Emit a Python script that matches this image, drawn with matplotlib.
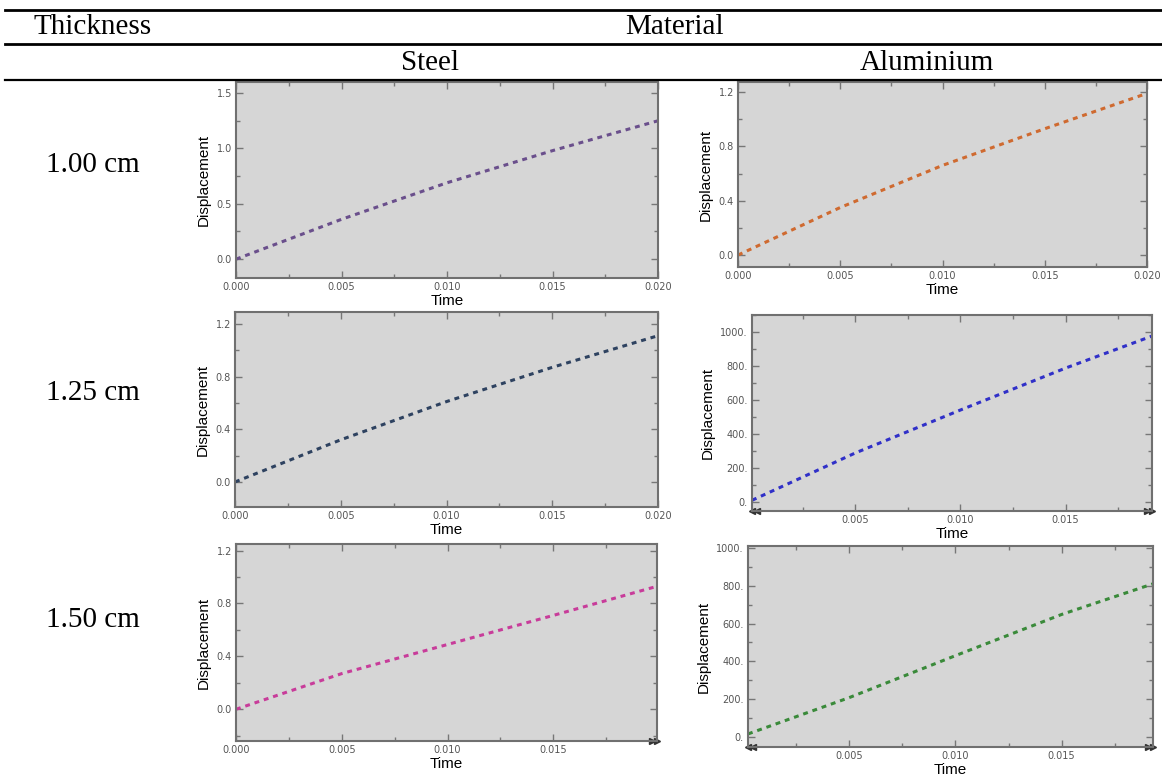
import numpy as np
import matplotlib
matplotlib.use("Agg")
import matplotlib.pyplot as plt
from matplotlib.lines import Line2D
from matplotlib.ticker import FuncFormatter, MultipleLocator

# table text
col_header = "Thickness"
group_header = "Material"
materials = ["Steel", "Aluminium"]
thicknesses = ["1.00 cm", "1.25 cm", "1.50 cm"]

# steel curves (time, displacement)
steel_t1 = [0.0, 0.005, 0.010, 0.015, 0.020]
steel_d1 = [0.0, 0.36, 0.69, 0.98, 1.25]
steel_t2 = [0.0, 0.005, 0.010, 0.015, 0.020]
steel_d2 = [0.0, 0.32, 0.61, 0.87, 1.11]
steel_t3 = [0.0, 0.005, 0.010, 0.015, 0.0199]
steel_d3 = [0.0, 0.27, 0.49, 0.71, 0.93]

# aluminium curves
alu_t1 = [0.0, 0.005, 0.010, 0.015, 0.020]
alu_d1 = [0.0, 0.35, 0.66, 0.93, 1.19]
alu_t2 = [0.0001, 0.005, 0.010, 0.015, 0.0191]
alu_d2 = [10, 288, 541, 788, 976]
alu_t3 = [0.00024, 0.005, 0.010, 0.015, 0.0193]
alu_d3 = [16, 208, 430, 648, 810]

W, H = 1162, 776
fig = plt.figure(figsize=(W / 100, H / 100), dpi=100)

serif = "Liberation Serif"
sans = "Liberation Sans"


def fx(px):
    return px / W


def fy(py):
    return 1 - py / H


def rule(y, x0=5, x1=1162, lw=2.0):
    fig.add_artist(Line2D([fx(x0), fx(x1)], [fy(y), fy(y)], color="black", lw=lw))


rule(10)
rule(44)
rule(80, lw=1.6)

fig.text(fx(33), fy(27), col_header, family=serif, fontsize=21, ha="left", va="center")
fig.text(fx(675), fy(27), group_header, family=serif, fontsize=21, ha="center", va="center")
fig.text(fx(430), fy(63), materials[0], family=serif, fontsize=21, ha="center", va="center")
fig.text(fx(927), fy(63), materials[1], family=serif, fontsize=21, ha="center", va="center")
for lab, y in zip(thicknesses, [165, 393, 620]):
    fig.text(fx(93), fy(y), lab, family=serif, fontsize=21, ha="center", va="center")


def panel(box, t, d, color, xlim, ylim, ymajor, yminor, yfmt, left_arrow=False, right_arrow=False):
    l, r, top, bot = box
    ax = fig.add_axes([fx(l), fy(bot), fx(r - l), (bot - top) / H])
    ax.set_facecolor("#d6d6d6")
    ax.plot(t, d, color=color, lw=2.2, linestyle=(0, (1.6, 1.6)))
    ax.set_xlim(*xlim)
    ax.set_ylim(*ylim)
    ax.xaxis.set_major_locator(MultipleLocator(0.005))
    ax.xaxis.set_minor_locator(MultipleLocator(0.0025))
    ax.yaxis.set_major_locator(MultipleLocator(ymajor))
    ax.yaxis.set_minor_locator(MultipleLocator(yminor))
    ax.xaxis.set_major_formatter(FuncFormatter(lambda v, p: f"{v:.3f}"))
    ax.yaxis.set_major_formatter(FuncFormatter(yfmt))
    ax.tick_params(which="both", direction="in", top=True, right=True,
                   colors="#777777", labelcolor="#555555", labelsize=7, pad=3)
    ax.tick_params(which="major", length=5, width=1)
    ax.tick_params(which="minor", length=3, width=1)
    for s in ax.spines.values():
        s.set_color("#707070")
        s.set_linewidth(1.5)
    ax.set_xlabel("Time", family=sans, fontsize=11, labelpad=1)
    ax.set_ylabel("Displacement", family=sans, fontsize=11, labelpad=4)
    marks = []
    if left_arrow:
        marks += [(0.0, "<"), (0.012, "<")]
    if right_arrow:
        marks += [(1.0, ">"), (0.988, ">")]
    for xa, m in marks:
        ax.plot([xa], [0], marker=m, color="#333333", ms=4,
                transform=ax.transAxes, clip_on=False)
    return ax


f_steel = lambda v, p: f"{v:.1f}"
f_alu = lambda v, p: f"{v:.0f}."

panel((236, 658, 82, 278), steel_t1, steel_d1, "#6a4f8c", (0, 0.020), (-0.17, 1.6), 0.5, 0.25, f_steel)
panel((738, 1147, 82, 267), alu_t1, alu_d1, "#cf6a30", (0, 0.020), (-0.088, 1.274), 0.4, 0.2, f_steel)
panel((235, 658, 312, 507), steel_t2, steel_d2, "#2e4260", (0, 0.020), (-0.19, 1.29), 0.4, 0.2, f_steel)
ax = panel((752, 1152, 315, 511), alu_t2, alu_d2, "#3030c8", (0.0001, 0.0191), (-53, 1100), 200, 100, f_alu,
           left_arrow=True, right_arrow=True)
ax.set_xticks([0.005, 0.010, 0.015])
panel((236, 657, 544, 741), steel_t3, steel_d3, "#c83c9a", (0, 0.0199), (-0.24, 1.25), 0.4, 0.2, f_steel,
      right_arrow=True)
ax = panel((748, 1153, 546, 747), alu_t3, alu_d3, "#3a8a3a", (0.00024, 0.0193), (-53, 1010), 200, 100, f_alu,
           left_arrow=True, right_arrow=True)
ax.set_xticks([0.005, 0.010, 0.015])

fig.savefig("out.png", dpi=100)
